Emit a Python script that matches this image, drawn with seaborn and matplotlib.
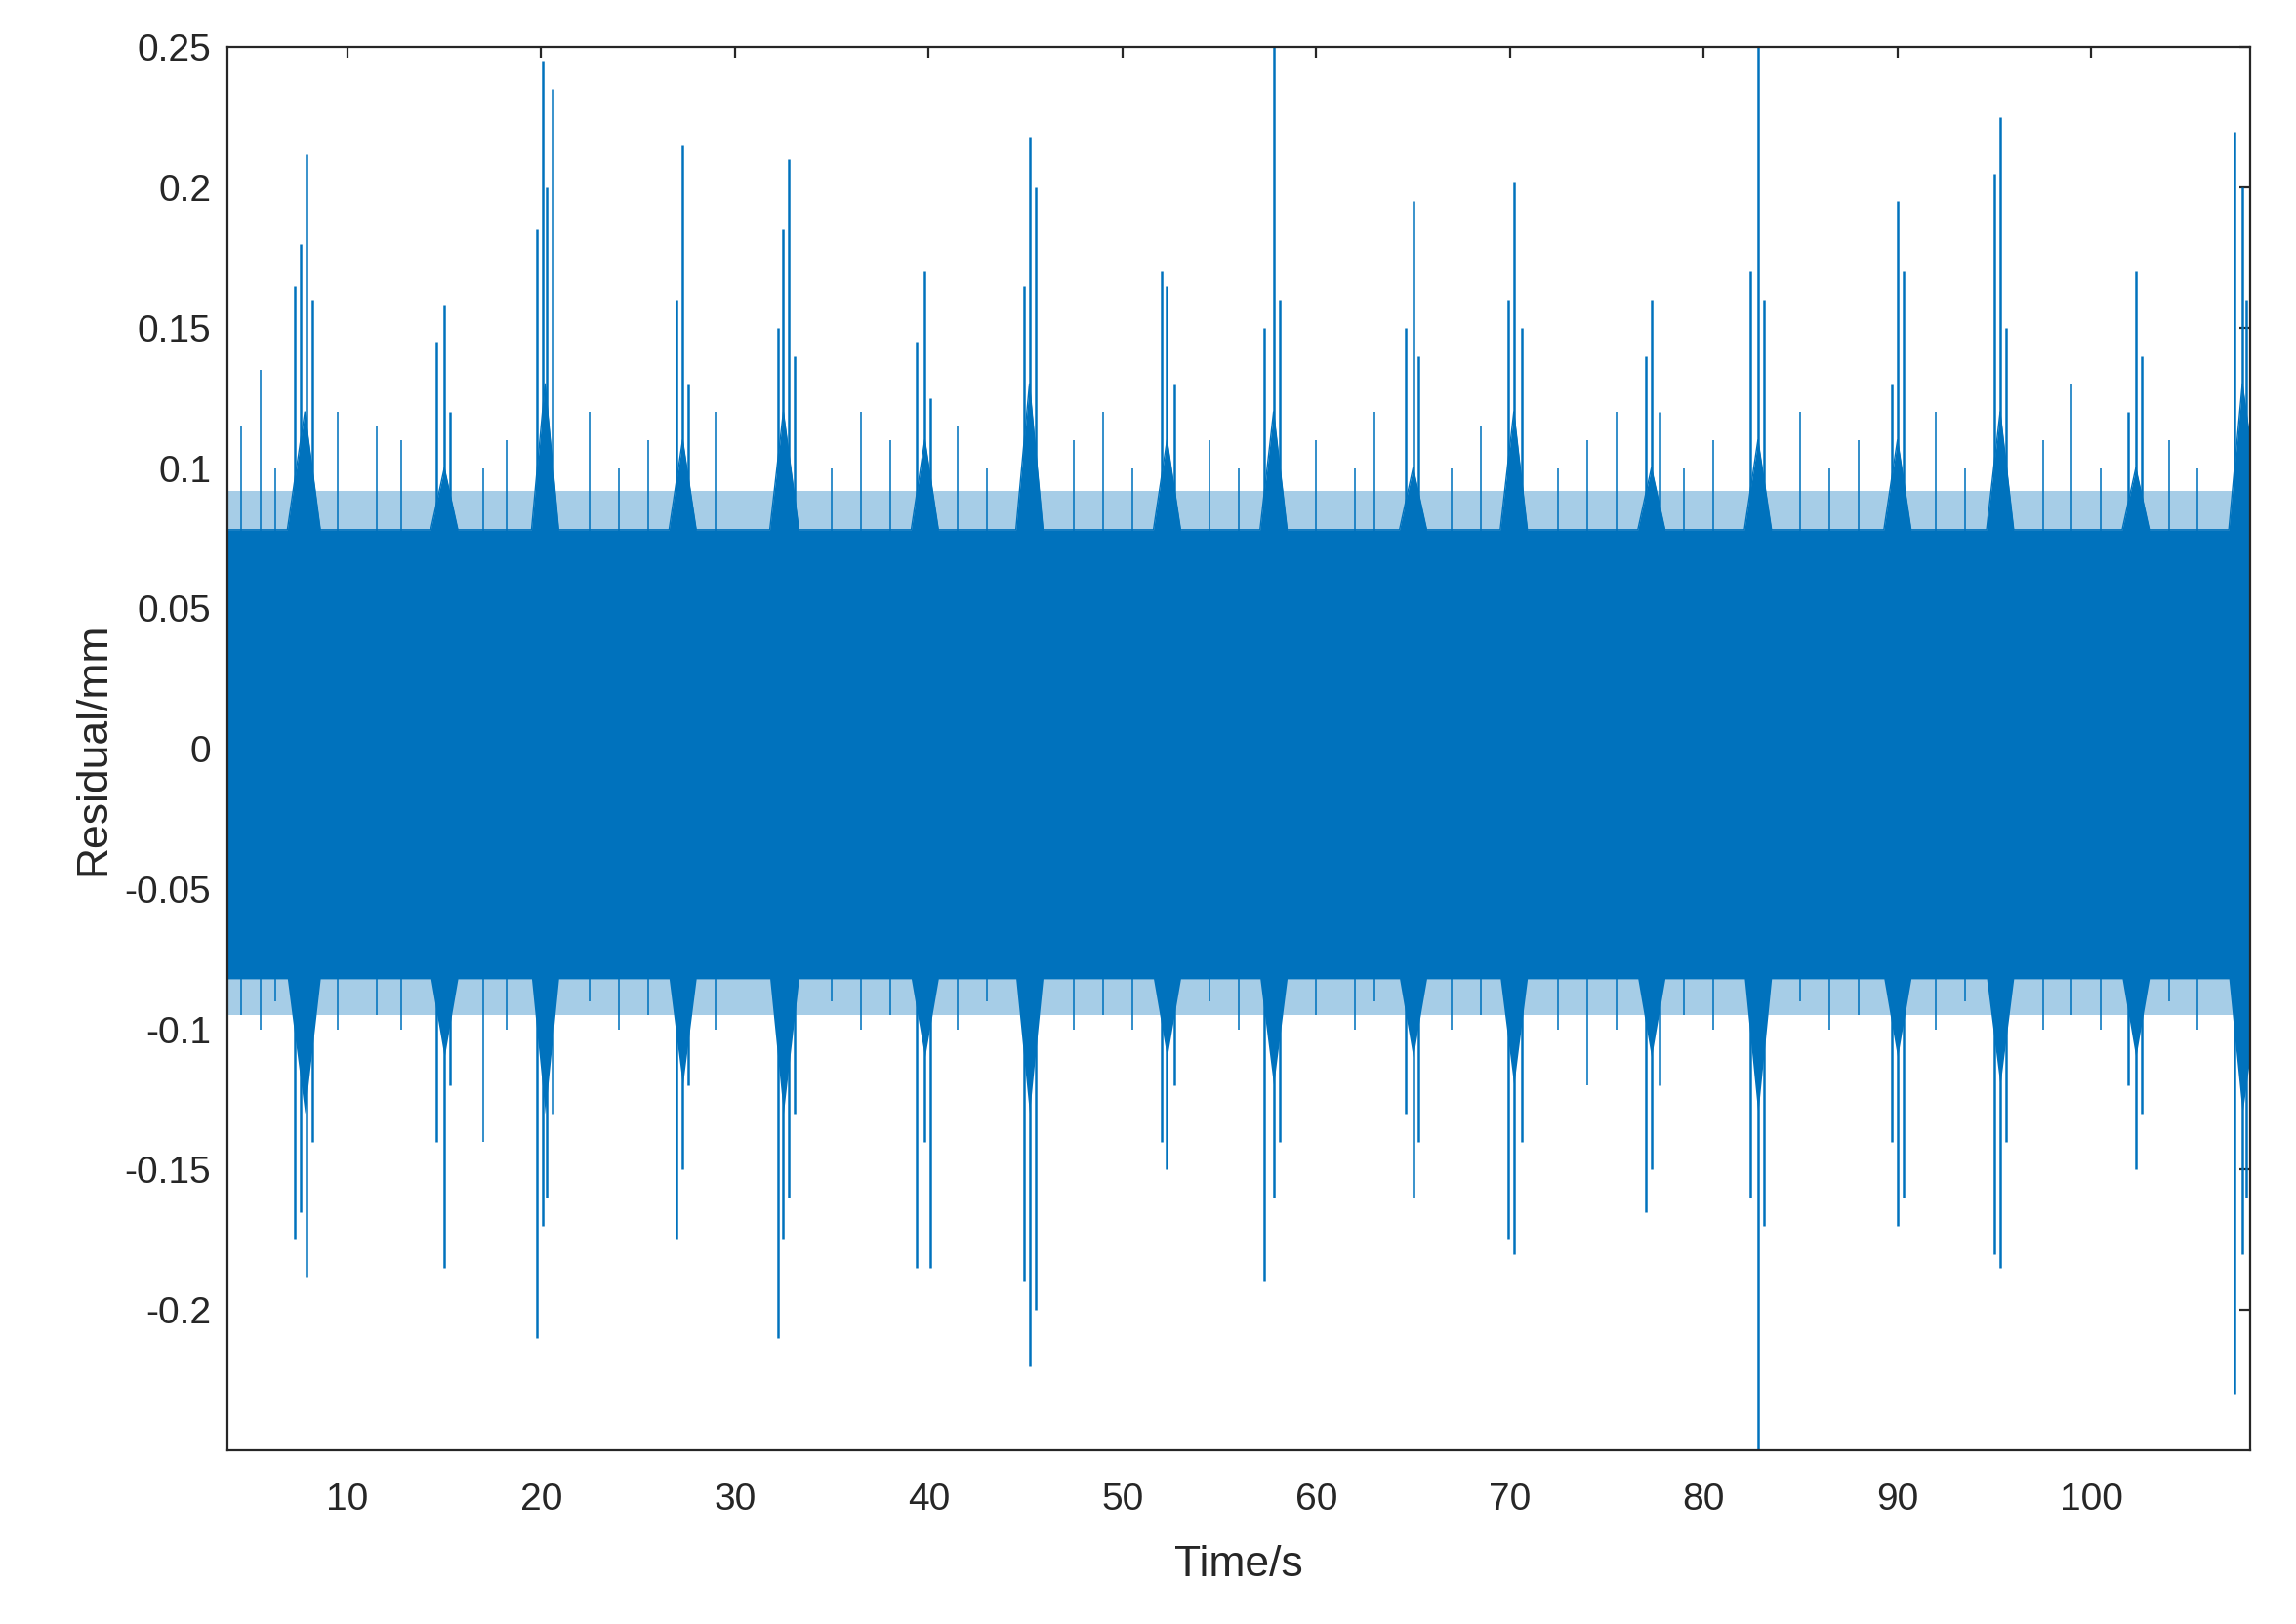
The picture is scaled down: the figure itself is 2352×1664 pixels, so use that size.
import matplotlib
matplotlib.use("Agg")
import matplotlib.pyplot as plt
import seaborn as sns
import pandas as pd

sns.set_style("white")
plt.rcParams['font.family'] = ['Liberation Sans', 'DejaVu Sans']

# envelope of the dense core
env_t = [3.8, 6.9, 7.8, 8.6, 14.3, 15.0, 15.7, 19.5, 20.2, 20.9, 26.6, 27.3, 28.0, 31.8, 32.5, 33.3,
         39.1, 39.8, 40.5, 44.5, 45.2, 45.9, 51.6, 52.3, 53.0, 57.1, 57.8, 58.5, 64.3, 65.0, 65.7,
         69.5, 70.2, 70.9, 76.6, 77.3, 78.0, 82.1, 82.8, 83.5, 89.3, 90.0, 90.7, 94.6, 95.3, 96.0,
         101.6, 102.3, 103.0, 107.1, 107.8, 108.2]
env_hi = [0.078, 0.078, 0.12, 0.078, 0.078, 0.1, 0.078, 0.078, 0.13, 0.078, 0.078, 0.11, 0.078, 0.078, 0.12, 0.078,
          0.078, 0.11, 0.078, 0.078, 0.13, 0.078, 0.078, 0.11, 0.078, 0.078, 0.12, 0.078, 0.078, 0.1, 0.078,
          0.078, 0.12, 0.078, 0.078, 0.1, 0.078, 0.078, 0.11, 0.078, 0.078, 0.11, 0.078, 0.078, 0.12, 0.078,
          0.078, 0.1, 0.078, 0.078, 0.13, 0.11]
env_lo = [-0.082, -0.082, -0.13, -0.082, -0.082, -0.11, -0.082, -0.082, -0.13, -0.082, -0.082, -0.12, -0.082, -0.082, -0.13, -0.082,
          -0.082, -0.11, -0.082, -0.082, -0.13, -0.082, -0.082, -0.11, -0.082, -0.082, -0.12, -0.082, -0.082, -0.11, -0.082,
          -0.082, -0.12, -0.082, -0.082, -0.11, -0.082, -0.082, -0.13, -0.082, -0.082, -0.11, -0.082, -0.082, -0.12, -0.082,
          -0.082, -0.11, -0.082, -0.082, -0.13, -0.11]
# lighter fringe around the core
fringe_hi = 0.092
fringe_lo = -0.095

# spikes inside the bursts: time, top, bottom
spike_t = [7.3, 7.6, 7.9, 8.2, 14.6, 15.0, 15.3, 19.8, 20.1, 20.3, 20.6, 27.0, 27.3, 27.6,
           32.2, 32.5, 32.8, 33.1, 39.4, 39.8, 40.1, 44.9, 45.2, 45.5, 52.0, 52.3, 52.7,
           57.3, 57.8, 58.1, 64.6, 65.0, 65.3, 69.9, 70.2, 70.6, 77.0, 77.3, 77.7,
           82.4, 82.8, 83.1, 89.7, 90.0, 90.3, 95.0, 95.3, 95.6, 101.9, 102.3, 102.6, 107.4, 107.8, 108.0]
spike_hi = [0.165, 0.18, 0.212, 0.16, 0.145, 0.158, 0.12, 0.185, 0.245, 0.2, 0.235, 0.16, 0.215, 0.13,
            0.15, 0.185, 0.21, 0.14, 0.145, 0.17, 0.125, 0.165, 0.218, 0.2, 0.17, 0.165, 0.13,
            0.15, 0.25, 0.16, 0.15, 0.195, 0.14, 0.16, 0.202, 0.15, 0.14, 0.16, 0.12,
            0.17, 0.25, 0.16, 0.13, 0.195, 0.17, 0.205, 0.225, 0.15, 0.12, 0.17, 0.14, 0.22, 0.2, 0.16]
spike_lo = [-0.175, -0.165, -0.188, -0.14, -0.14, -0.185, -0.12, -0.21, -0.17, -0.16, -0.13, -0.175, -0.15, -0.12,
            -0.21, -0.175, -0.16, -0.13, -0.185, -0.14, -0.185, -0.19, -0.22, -0.2, -0.14, -0.15, -0.12,
            -0.19, -0.16, -0.14, -0.13, -0.16, -0.14, -0.175, -0.18, -0.14, -0.165, -0.15, -0.12,
            -0.16, -0.25, -0.17, -0.14, -0.17, -0.16, -0.18, -0.185, -0.14, -0.12, -0.15, -0.13, -0.23, -0.18, -0.16]

# isolated background spikes
bg_t = [4.5, 5.5, 6.3, 9.5, 11.5, 12.8, 17.0, 18.2, 22.5, 24.0, 25.5, 29.0, 35.0, 36.5, 38.0, 41.5, 43.0,
        47.5, 49.0, 50.5, 54.5, 56.0, 60.0, 62.0, 63.0, 67.0, 68.5, 72.5, 74.0, 75.5, 79.0, 80.5, 85.0,
        86.5, 88.0, 92.0, 93.5, 97.5, 99.0, 100.5, 104.0, 105.5]
bg_hi = [0.115, 0.135, 0.1, 0.12, 0.115, 0.11, 0.1, 0.11, 0.12, 0.1, 0.11, 0.12, 0.1, 0.12, 0.11, 0.115, 0.1,
         0.11, 0.12, 0.1, 0.11, 0.1, 0.11, 0.1, 0.12, 0.1, 0.115, 0.1, 0.11, 0.12, 0.1, 0.11, 0.12,
         0.1, 0.11, 0.12, 0.1, 0.11, 0.13, 0.1, 0.11, 0.1]
bg_lo = [-0.095, -0.1, -0.09, -0.1, -0.095, -0.1, -0.14, -0.1, -0.09, -0.1, -0.095, -0.1, -0.09, -0.1, -0.095, -0.1, -0.09,
         -0.1, -0.095, -0.1, -0.09, -0.1, -0.095, -0.1, -0.09, -0.1, -0.095, -0.1, -0.12, -0.1, -0.095, -0.1, -0.09,
         -0.1, -0.095, -0.1, -0.09, -0.1, -0.095, -0.1, -0.09, -0.1]

blue = "#0072BD"
fig = plt.figure(figsize=(11.76, 8.32), dpi=200)
ax = fig.add_axes([0.099, 0.107, 0.881, 0.864])

ax.axhspan(fringe_lo, fringe_hi, color=blue, alpha=0.35, lw=0)
ax.fill_between(env_t, env_lo, env_hi, color=blue, lw=0)
df_core = pd.DataFrame({"t": env_t, "hi": env_hi})
sns.lineplot(data=df_core, x="t", y="hi", ax=ax, color=blue, lw=0.5)
ax.vlines(spike_t, spike_lo, spike_hi, color=blue, lw=0.9)
ax.vlines(bg_t, bg_lo, bg_hi, color=blue, lw=0.7, alpha=0.8)

ax.set_xlim(3.8, 108.2)
ax.set_ylim(-0.25, 0.25)
ax.set_xticks([10, 20, 30, 40, 50, 60, 70, 80, 90, 100])
yt = [-0.2, -0.15, -0.1, -0.05, 0, 0.05, 0.1, 0.15, 0.2, 0.25]
ax.set_yticks(yt)
ax.set_yticklabels(["-0.2", "-0.15", "-0.1", "-0.05", "0", "0.05", "0.1", "0.15", "0.2", "0.25"])
ax.tick_params(direction="in", length=4, labelsize=14, colors="#262626", top=True, right=True,
               labeltop=False, labelright=False, pad=6)
ax.tick_params(axis="x", pad=12)
for s in ax.spines.values():
    s.set_color("#262626")
    s.set_linewidth(0.8)
ax.set_xlabel("Time/s", fontsize=16, color="#262626", labelpad=10)
ax.set_ylabel("Residual/mm", fontsize=16, color="#262626", labelpad=4)
fig.savefig("out.png", dpi=200)
